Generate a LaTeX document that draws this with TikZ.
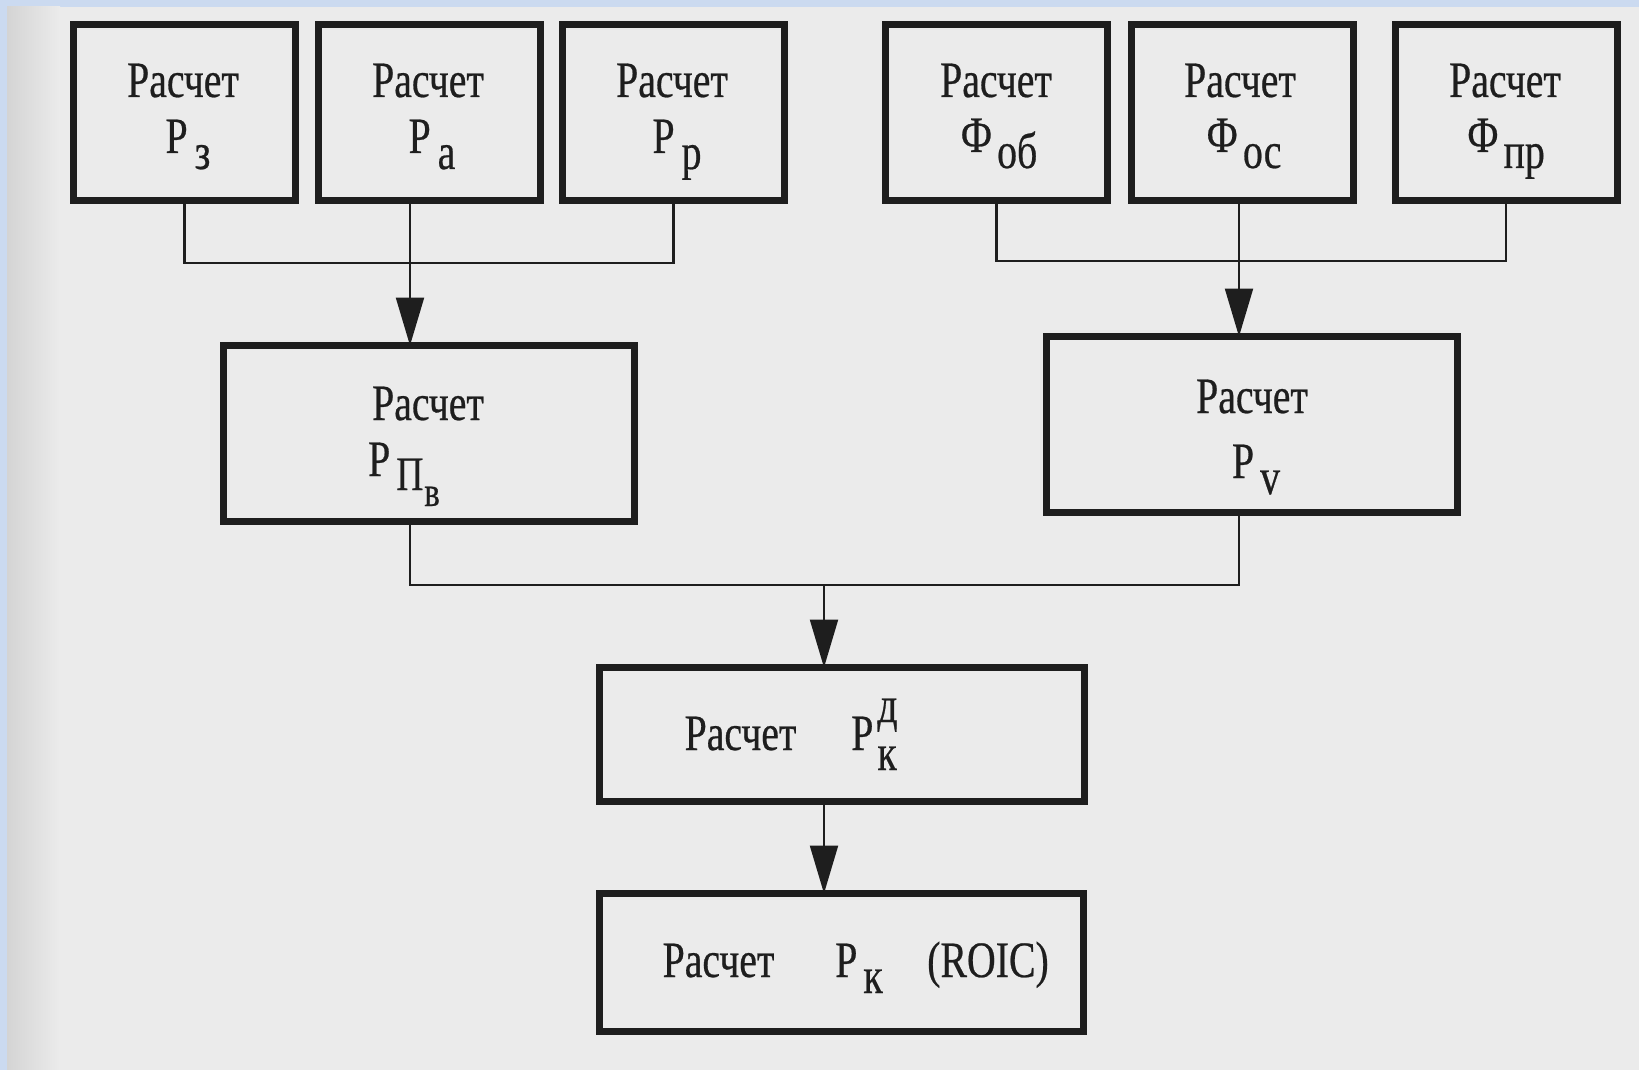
\documentclass[tikz,border=0pt]{standalone}
\usepackage{fontspec}
\newfontfamily\cond[FakeStretch=0.78,FakeBold=0.5]{Liberation Serif}
\usetikzlibrary{arrows.meta,calc}
\definecolor{ink}{HTML}{1E1E1E}
\definecolor{paper}{HTML}{EBEBEB}
\definecolor{paperdark}{HTML}{D4D4D4}
\definecolor{frame}{HTML}{CBDAF0}
\newcommand\lowr[2][7.5pt]{\raisebox{-#1}{#2}}
\begin{document}
\begin{tikzpicture}[x=0.5pt,y=-0.5pt,
  box/.style={draw=ink, line width=3.5pt, minimum width=111pt, minimum height=88pt, inner sep=0pt, outer sep=0pt},
  lbl/.style={font=\cond\fontsize{25.5}{28}\selectfont, text=ink, inner sep=0pt, anchor=base},
  conn/.style={draw=ink, line width=1.1pt},
  arr/.style={conn, -{Triangle[length=24pt,width=14pt]}}]
% background
\fill[frame] (0,0) rectangle (1639,1070);
\fill[paper] (7,7) rectangle (1639,1070);
\shade[left color=paperdark, right color=paper] (7,7) rectangle (60,1070);
\useasboundingbox (0,0) rectangle (1639,1070);
% helper coordinates
\coordinate (xA) at (410,0);
\coordinate (xB) at (1239,0);
\coordinate (xC) at (824,0);
\coordinate (busL) at (0,263);
\coordinate (busR) at (0,261);
\coordinate (busB) at (0,585);
% boxes
\node[box] (B1) at (184.5,112.5) {};
\node[box] (B2) at (429.5,112.5) {};
\node[box] (B3) at (673.5,112.5) {};
\node[box] (B4) at (996.5,112.5) {};
\node[box] (B5) at (1242,112.5) {};
\node[box] (B6) at (1506,112.5) {};
\node[box, minimum width=205.5pt] (PPV) at (429,433.5) {};
\node[box, minimum width=205.5pt] (PV) at (1252,424.5) {};
\node[box, minimum width=242.5pt, minimum height=67pt] (PKD) at (842,734.5) {};
\node[box, minimum width=242pt, minimum height=69pt] (PK) at (841.5,962.5) {};
% texts
\node[lbl] (t1a) at (183,97) {Расчет};
\node[lbl] (t1b) at (188,153) {Р\kern3.5pt\lowr[8pt]{з}};
\node[lbl] (t2a) at (428,97) {Расчет};
\node[lbl] (t2b) at (432,153) {Р\kern3.5pt\lowr[8pt]{а}};
\node[lbl] (t3a) at (672,97) {Расчет};
\node[lbl] (t3b) at (677,153) {Р\kern3.5pt\lowr[8pt]{р}};
\node[lbl] (t4a) at (996,97) {Расчет};
\node[lbl] (t4b) at (999,152) {Ф\kern2.5pt\lowr[8pt]{об}};
\node[lbl] (t5a) at (1240,97) {Расчет};
\node[lbl] (t5b) at (1244,152) {Ф\kern2.5pt\lowr[8pt]{ос}};
\node[lbl] (t6a) at (1505,97) {Расчет};
\node[lbl] (t6b) at (1506,152) {Ф\kern2.5pt\lowr[8pt]{пр}};
\node[lbl] (t7a) at (428,420) {Расчет};
\node[lbl] (t7b) at (404,476) {Р\kern3pt\lowr[7pt]{\fontsize{24}{26}\selectfont П}\kern0.5pt\lowr[15pt]{\fontsize{21}{23}\selectfont в}};
\node[lbl] (t8a) at (1252,413) {Расчет};
\node[lbl] (t8b) at (1256,478) {Р\kern3pt\lowr[8pt]{v}};
\node[lbl] (t9a) at (740.5,750) {Расчет};
\node[lbl] (t9b) at (874,750) {Р\kern2pt\rlap{\raisebox{14pt}{д}}\lowr[10pt]{к}};
\node[lbl] (t10a) at (718.5,977) {Расчет};
\node[lbl] (t10b) at (859,977) {Р\kern3pt\lowr[8pt]{к}};
\node[lbl] (t10c) at (988,977) {(ROIC)};
% connectors
\draw[conn] (B1.south) -- (B1.south |- busL) -| (B3.south);
\draw[arr] (B2.south -| xA) -- (PPV.north -| xA);
\draw[conn] (B4.south) -- (B4.south |- busR) -| (B6.south);
\draw[arr] (B5.south -| xB) -- (PV.north -| xB);
\draw[conn] (PPV.south -| xA) -- (xA |- busB) -- (xB |- busB) -- (PV.south -| xB);
\draw[arr] (xC |- busB) -- (PKD.north -| xC);
\draw[arr] (PKD.south -| xC) -- (PK.north -| xC);
\end{tikzpicture}
\end{document}
